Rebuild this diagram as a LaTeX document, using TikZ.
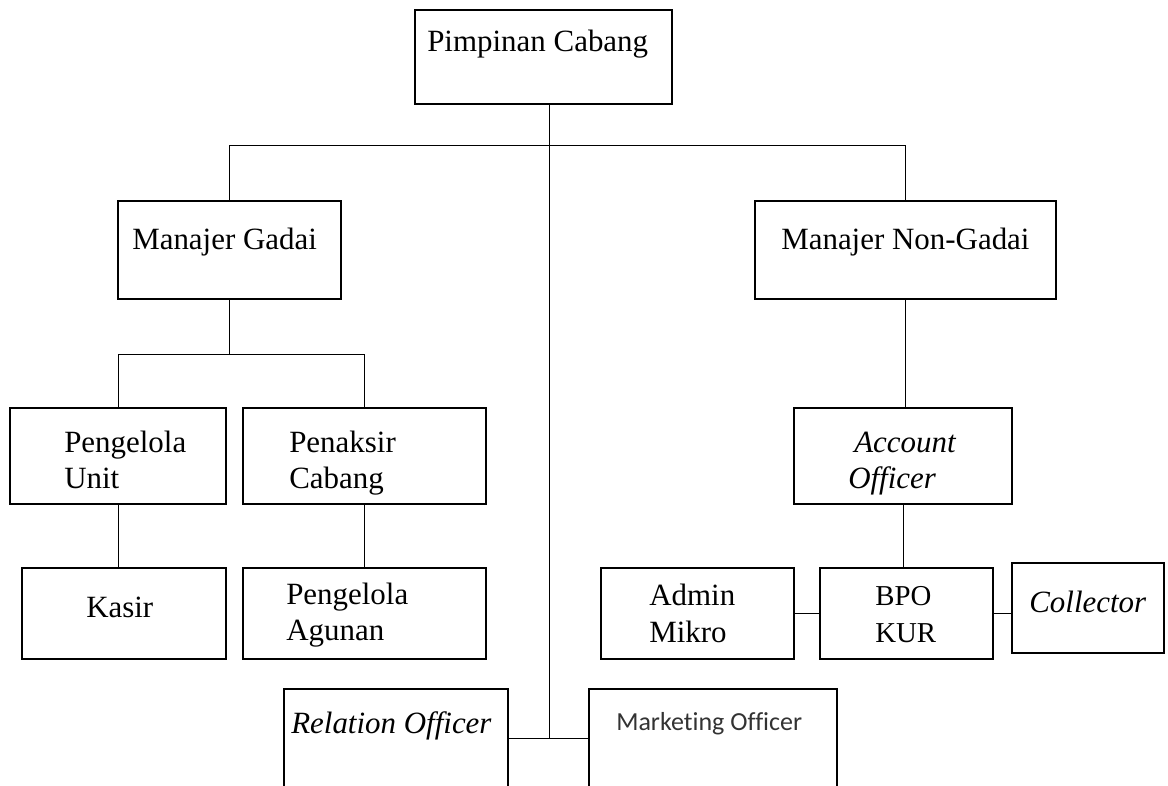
\documentclass[tikz,border=0pt]{standalone}
\usepackage{fontspec}
\setmainfont{Liberation Serif}
\newfontfamily\calibrifont[Ligatures=CommonOff]{Carlito}
\usetikzlibrary{fit}

\tikzset{
  box/.style={draw, line width=0.8pt, inner sep=0pt},
  lbl/.style={anchor=base west, inner sep=0pt, font=\fontsize{22}{26}\selectfont},
  link/.style={line width=0.7pt},
}

\begin{document}
\begin{tikzpicture}[x=0.025cm, y=-0.025cm]
  \useasboundingbox (0,0) rectangle (1168,786);
  \clip (0,0) rectangle (1168,786);
  % boxes (pixel coordinates, y pointing down)
  \node[box, fit={(415,10) (672,104)}] (pc) {};
  \node[box, fit={(118,201) (341,299)}] (mg) {};
  \node[box, fit={(755,201) (1056,299)}] (mng) {};
  \node[box, fit={(10,408) (226,504)}] (pu) {};
  \node[box, fit={(243,408) (486,504)}] (pcb) {};
  \node[box, fit={(22,568) (226,659)}] (ks) {};
  \node[box, fit={(243,568) (486,659)}] (ag) {};
  \node[box, fit={(794,408) (1012,504)}] (ao) {};
  \node[box, fit={(601,568) (794,659)}] (am) {};
  \node[box, fit={(820,568) (993,659)}] (bpo) {};
  \node[box, fit={(1012,563) (1164,653)}] (col) {};
  % the two bottom boxes run off the page
  \node[box, fit={(284,689) (508,800)}] (ro) {};
  \node[box, fit={(589,689) (837,800)}] (mo) {};

  % texts
  \node[lbl] (pc-t) at (427,52) {Pimpinan Cabang};
  \node[lbl] (mg-t) at (132,250) {Manajer Gadai};
  \node[lbl] (mng-t) at (781,250) {Manajer Non-Gadai};
  \node[lbl] (pu-t1) at (64,452) {Pengelola};
  \node[lbl] (pu-t2) at (64,488) {Unit};
  \node[lbl] (pcb-t1) at (289,452) {Penaksir};
  \node[lbl] (pcb-t2) at (289,488) {Cabang};
  \node[lbl] (ks-t) at (86,617) {Kasir};
  \node[lbl] (ag-t1) at (286,604) {Pengelola};
  \node[lbl] (ag-t2) at (286,640) {Agunan};
  \node[lbl] (ao-t1) at (854,452) {\itshape Account};
  \node[lbl] (ao-t2) at (848,488) {\itshape Officer};
  \node[lbl] (am-t1) at (649,605) {Admin};
  \node[lbl] (am-t2) at (649,642) {Mikro};
  \node[lbl, font=\fontsize{20.5}{24}\selectfont] (bpo-t1) at (875,605) {BPO};
  \node[lbl, font=\fontsize{20.5}{24}\selectfont] (bpo-t2) at (875,642) {KUR};
  \node[lbl] (col-t) at (1029,612) {\itshape Collector};
  \node[lbl] (ro-t) at (291,733) {\itshape Relation Officer};
  \node[lbl, font=\calibrifont\fontsize{18.5}{22}\selectfont, text=black!80] (mo-t) at (616,730) {Marketing Officer};

  % connectors
  \coordinate (trunk) at (549,738);
  \draw[link] (pc.south -| trunk) -- (trunk);
  \draw[link] (ro.east |- trunk) -- (mo.west |- trunk);
  \draw[link] (mg.north) -- ++(0,-55) -| (mng.north);
  \draw[link] (mg.south) -- ++(0,55) coordinate (gbus);
  \draw[link] (pu.north) |- (gbus) -| (pcb.north);
  \draw[link] (pu.south) -- (pu.south |- ks.north);
  \draw[link] (pcb.south) -- (ag.north);
  \draw[link] (mng.south) -- (mng.south |- ao.north);
  \draw[link] (ao.south) -- (ao.south |- bpo.north);
  \draw[link] (am.east) -- (bpo.west);
  \draw[link] (bpo.east) -- (bpo.east -| col.west);
\end{tikzpicture}
\end{document}
